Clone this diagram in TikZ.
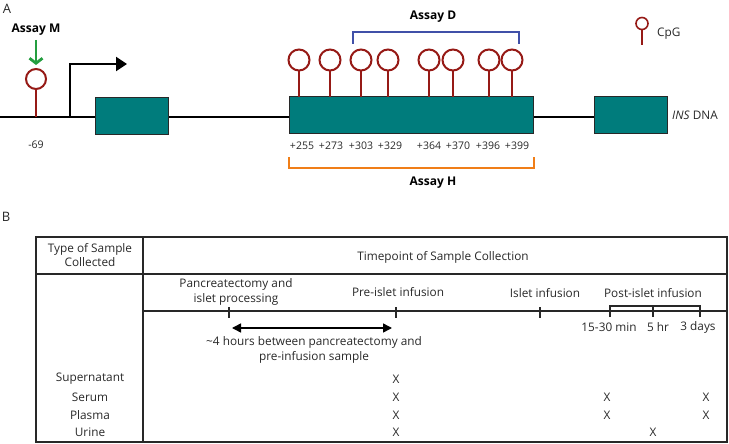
\documentclass[tikz,border=0pt]{standalone}
\usepackage{fontspec}
\setmainfont{Open Sans}
\usetikzlibrary{arrows.meta}
\definecolor{exon}{RGB}{0,124,124}
\definecolor{cpg}{RGB}{150,26,22}
\definecolor{assayd}{RGB}{64,80,168}
\definecolor{assayh}{RGB}{240,126,24}
\definecolor{assaym}{RGB}{36,158,64}
\definecolor{ink}{RGB}{40,40,40}
\tikzset{
  exonbox/.style={draw=ink, fill=exon, line width=1pt},
  lolly/.style={draw=cpg, line width=2pt},
  tbl/.style={draw=ink, line width=1.2pt},
  txt/.style={text=ink, font=\fontsize{11.8}{14.5}\selectfont, inner sep=1pt, align=center},
  poslbl/.style={text=ink, font=\fontsize{10.5}{12}\selectfont, inner sep=1pt},
  ttl/.style={text=black, font=\fontsize{12}{14}\selectfont\bfseries, inner sep=1pt},
}
\begin{document}
\begin{tikzpicture}[x=1pt,y=-1pt]
      \useasboundingbox (0,0) rectangle (729,444);
      % panel A
      \node[text=ink, font=\fontsize{13}{15}\selectfont] (pa) at (7,9) {A};
      \draw[line width=2.5pt] (0,117) -- (594,117);
      \draw[exonbox] (95,98) rectangle (168,134);
      \draw[exonbox] (289,97) rectangle (533,133);
      \draw[exonbox] (594,97) rectangle (667,133);
      \node[txt, anchor=west] (ins) at (671,115) {\textit{INS} DNA};
      % promoter
      \draw[line width=2.2pt, -{Triangle[length=11pt,width=14pt]}] (70,117) -- (70,64) -- (127,64);
      % CpG sites
      \draw[lolly] (36,117) -- (36,89);
      \draw[lolly, fill=white] (36,79) circle (10pt);
      \draw[lolly] (299,97) -- (299,71);
      \draw[lolly, fill=white] (299,60) circle (10.5pt);
      \draw[lolly] (330,97) -- (330,71);
      \draw[lolly, fill=white] (330,60) circle (10.5pt);
      \draw[lolly] (361,97) -- (361,71);
      \draw[lolly, fill=white] (361,60) circle (10.5pt);
      \draw[lolly] (388,97) -- (388,71);
      \draw[lolly, fill=white] (388,60) circle (10.5pt);
      \draw[lolly] (429,97) -- (429,71);
      \draw[lolly, fill=white] (429,60) circle (10.5pt);
      \draw[lolly] (453,97) -- (453,71);
      \draw[lolly, fill=white] (453,60) circle (10.5pt);
      \draw[lolly] (489,97) -- (489,71);
      \draw[lolly, fill=white] (489,60) circle (10.5pt);
      \draw[lolly] (512,97) -- (512,71);
      \draw[lolly, fill=white] (512,60) circle (10.5pt);
      % legend
      \draw[lolly, line width=1.6pt] (642,45) -- (642,30);
      \draw[lolly, line width=1.6pt, fill=white] (642,23.5) circle (6pt);
      \node[txt, anchor=west] (cpglegend) at (656,34) {CpG};
      % positions
      \node[poslbl] (m69) at (36,145) {-69};
      \node[poslbl] (p255) at (302,146) {+255};
      \node[poslbl] (p273) at (331,146) {+273};
      \node[poslbl] (p303) at (361,146) {+303};
      \node[poslbl] (p329) at (390,146) {+329};
      \node[poslbl] (p364) at (429,146) {+364};
      \node[poslbl] (p370) at (458,146) {+370};
      \node[poslbl] (p396) at (488,146) {+396};
      \node[poslbl] (p399) at (517,146) {+399};
      % assays
      \node[ttl] (asm) at (36,30) {Assay M};
      \draw[assaym, line width=2.8pt, -{Straight Barb[length=5pt,width=13pt]}] (36,40) -- (36,65);
      \node[ttl] (asd) at (433,17) {Assay D};
      \draw[assayd, line width=2pt] (353,44) -- (353,32) -- (519,32) -- (519,44);
      \draw[assayh, line width=2.5pt] (289,157) -- (289,168) -- (534,168) -- (534,157);
      \node[ttl] (ash) at (433,183) {Assay H};
      % panel B
      \node[text=ink, font=\fontsize{13}{15}\selectfont] (pb) at (6,217) {B};
      \draw[tbl] (36,237) rectangle (727,442);
      \draw[tbl] (143,237) -- (143,442);
      \draw[tbl] (36,274) -- (727,274);
      \draw[tbl] (143,311) -- (727,311);
      \node[txt] (type) at (90,255) {Type of Sample\\Collected};
      \node[txt] (timept) at (443,257) {Timepoint of Sample Collection};
      \node[txt] (pancr) at (236,292) {Pancreatectomy and\\islet processing};
      \node[txt] (prein) at (398,292) {Pre-islet infusion};
      \node[txt] (islet) at (545,293) {Islet infusion};
      \node[txt] (postin) at (653,293) {Post-islet infusion};
      % timeline ticks
      \draw[tbl] (229,307) -- (229,318);
      \draw[tbl] (396,307) -- (396,318);
      \draw[tbl] (540,307) -- (540,318);
      \draw[tbl] (610,317) -- (610,306) -- (700,306) -- (700,317);
      \draw[tbl] (653,306) -- (653,317);
      \node[txt] (t15) at (609,327) {15-30 min};
      \node[txt] (t5) at (658,327) {5 hr};
      \node[txt] (t3) at (698,327) {3 days};
      \draw[line width=1.5pt, {Triangle[length=9pt,width=9pt]}-{Triangle[length=9pt,width=9pt]}] (232,328) -- (392,328);
      \node[txt] (fourh) at (314,350) {\textasciitilde4 hours between pancreatectomy and\\pre-infusion sample};
      % sample rows
      \node[txt] (super) at (90,379) {Supernatant};
      \node[txt] (serum) at (90,397) {Serum};
      \node[txt] (plasma) at (90,415) {Plasma};
      \node[txt] (urine) at (90,432) {Urine};
      \node[txt] (x1) at (396,379) {X};
      \node[txt] (x2) at (396,397) {X};
      \node[txt] (x3) at (607,397) {X};
      \node[txt] (x4) at (706,397) {X};
      \node[txt] (x5) at (396,415) {X};
      \node[txt] (x6) at (607,415) {X};
      \node[txt] (x7) at (706,415) {X};
      \node[txt] (x8) at (396,432) {X};
      \node[txt] (x9) at (653,432) {X};
    \end{tikzpicture}
\end{document}
